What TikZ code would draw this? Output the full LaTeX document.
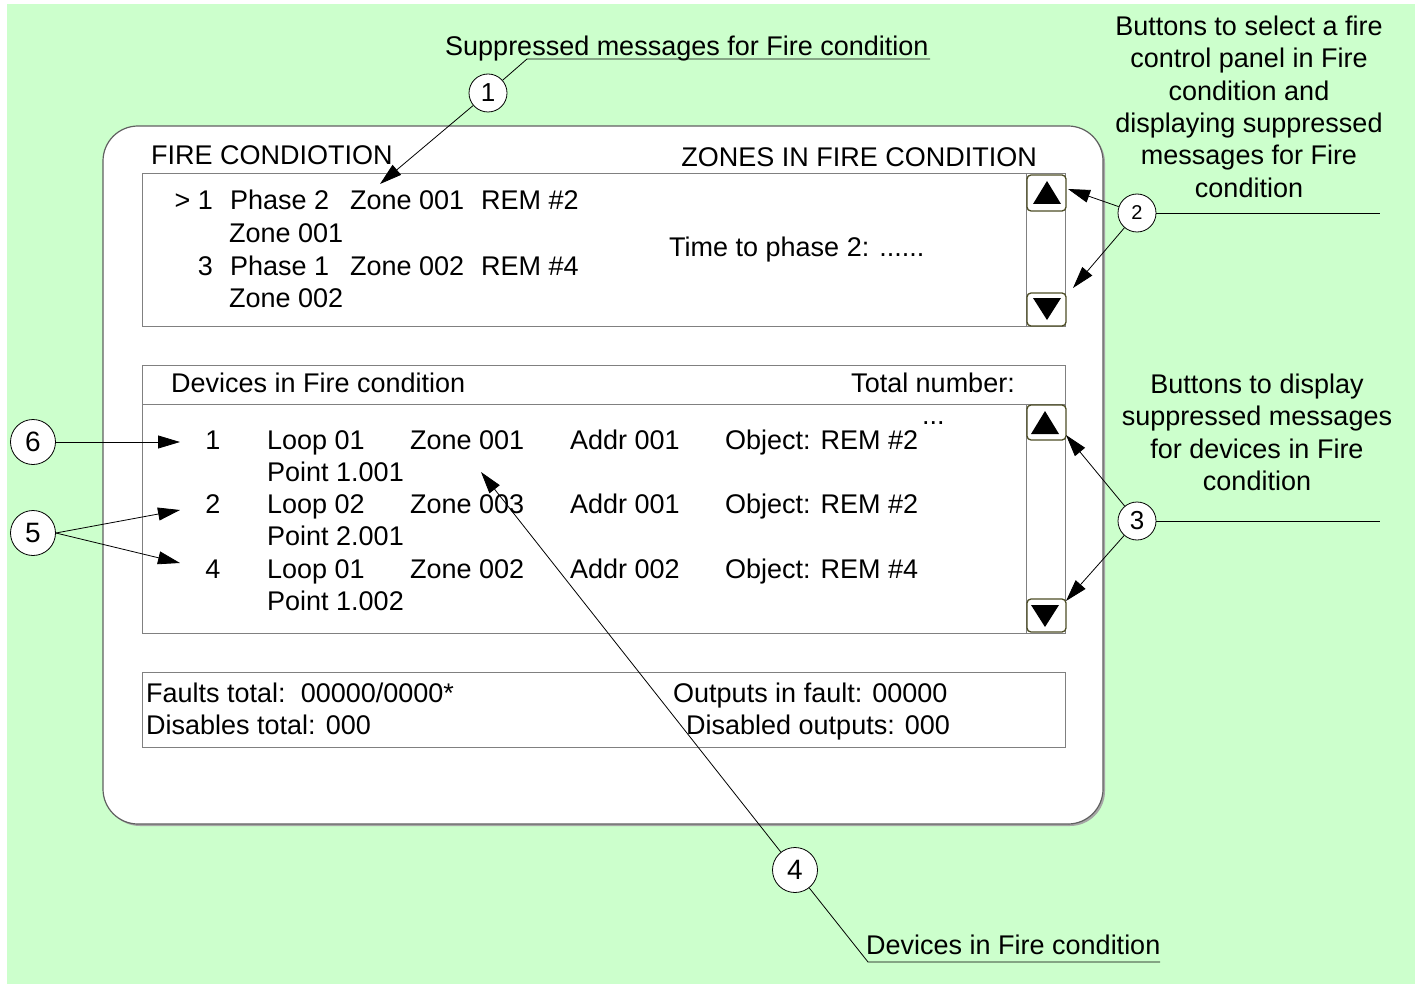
\documentclass[tikz,border=0pt]{standalone}
\usepackage{fontspec}
\setmainfont{Liberation Sans}
\usetikzlibrary{arrows.meta}
\definecolor{bggreen}{HTML}{CCFFCC}
\definecolor{btnborder}{HTML}{4D4D26}
\definecolor{panelborder}{HTML}{606060}
\definecolor{boxborder}{HTML}{808080}
\begin{document}
\begin{tikzpicture}[x=1pt,y=-1pt,
  txt/.style={font=\fontsize{27}{32}\selectfont, inner sep=0pt, anchor=base west},
  txtc/.style={font=\fontsize{27}{32}\selectfont, inner sep=0pt, anchor=base},
  txte/.style={font=\fontsize{27}{32}\selectfont, inner sep=0pt, anchor=base east},
  callout/.style={circle, draw=black, fill=white, inner sep=0pt, line width=0.8pt, minimum size=38pt, font=\fontsize{26}{26}\selectfont},
  bigcallout/.style={callout, minimum size=45pt, font=\fontsize{28}{28}\selectfont},
  leader/.style={draw=black, line width=0.8pt},
  arr/.style={leader, -{Triangle[length=22pt,width=13pt]}},
  boxline/.style={draw=boxborder, line width=1pt},
  btn/.style={draw=btnborder, fill=white, rounded corners=4pt, line width=1.3pt}
]
\useasboundingbox (0,0) rectangle (1415,984);
\fill[bggreen] (7,4) rectangle (1415,984);

% panel
\fill[gray!70, rounded corners=35pt] (105,128) rectangle (1105,826);
\draw[panelborder, fill=white, line width=1.2pt, rounded corners=35pt] (103,126) rectangle (1103,824);

% top box
\draw[boxline, fill=white] (142,174) rectangle (1065,326);
\draw[boxline] (1026,174) -- (1026,326);
\draw[btn] (1027,175) rectangle (1066,211);
\fill (1033,204) -- (1047,181) -- (1061,204) -- cycle;
\draw[btn] (1027,293) rectangle (1066,326);
\fill (1033,298) -- (1061,298) -- (1047,320) -- cycle;

\node[txt] (hdr1) at (151,165) {FIRE CONDIOTION};
\node[txte] (hdr2) at (1037,167) {ZONES IN FIRE CONDITION};

\node[txte] (z1n) at (213,210) {> 1};
\node[txt] (z1p) at (230,210) {Phase 2};
\node[txt] (z1z) at (350,210) {Zone 001};
\node[txt] (z1r) at (481,210) {REM \#2};
\node[txt] (z2z) at (229,243) {Zone 001};
\node[txte] (z3n) at (213,275) {3};
\node[txt] (z3p) at (230,275) {Phase 1};
\node[txt] (z3z) at (350,275) {Zone 002};
\node[txt] (z3r) at (481,275) {REM \#4};
\node[txt] (z4z) at (229,307) {Zone 002};
\node[txt] (tph) at (669,256) {Time to phase 2: ......};

% middle box
\draw[boxline, fill=white] (142,365) rectangle (1065,633);
\draw[boxline] (142,404) -- (1065,404);
\draw[boxline] (1026,404) -- (1026,633);
\draw[btn] (1027,405) rectangle (1066,440);
\fill (1031,434) -- (1045,411) -- (1059,434) -- cycle;
\draw[btn] (1027,599) rectangle (1066,632);
\fill (1031,605) -- (1059,605) -- (1045,627) -- cycle;

\node[txt] (dh) at (171,392) {Devices in Fire condition};
\node[txte] (tn) at (1015,392) {Total number:};
\node[txt] (dots) at (922,424) {...};

\node[txtc] (r1n) at (213,449) {1};
\node[txt] (r1l) at (267,449) {Loop 01};
\node[txt] (r1z) at (410,449) {Zone 001};
\node[txt] (r1a) at (570,449) {Addr 001};
\node[txt] (r1o) at (725,449) {Object: REM \#2};
\node[txt] (r1p) at (267,481) {Point 1.001};
\node[txtc] (r2n) at (213,513) {2};
\node[txt] (r2l) at (267,513) {Loop 02};
\node[txt] (r2z) at (410,513) {Zone 003};
\node[txt] (r2a) at (570,513) {Addr 001};
\node[txt] (r2o) at (725,513) {Object: REM \#2};
\node[txt] (r2p) at (267,545) {Point 2.001};
\node[txtc] (r4n) at (213,578) {4};
\node[txt] (r4l) at (267,578) {Loop 01};
\node[txt] (r4z) at (410,578) {Zone 002};
\node[txt] (r4a) at (570,578) {Addr 002};
\node[txt] (r4o) at (725,578) {Object: REM \#4};
\node[txt] (r4p) at (267,610) {Point 1.002};

% bottom box
\draw[boxline, fill=white] (142,672) rectangle (1065,747);
\node[txt] (ft) at (146,702) {Faults total:\ \ 00000/0000*};
\node[txt] (dt) at (146,734) {Disables total: 000};
\node[txt] (of) at (673,702) {Outputs in fault: 00000};
\node[txt] (do) at (686,734) {Disabled outputs: 000};

% annotation texts
\node[txt] (lab1) at (445,56) {Suppressed messages for Fire condition};
\node[txt] (lab4) at (866,954) {Devices in Fire condition};
\node[txtc] (b1) at (1249,36) {Buttons to select a fire};
\node[txtc] (b2) at (1249,68) {control panel in Fire};
\node[txtc] (b3) at (1249,101) {condition and};
\node[txtc] (b4) at (1249,133) {displaying suppressed};
\node[txtc] (b5) at (1249,165) {messages for Fire};
\node[txtc] (b6) at (1249,198) {condition};
\node[txtc] (d1) at (1257,393) {Buttons to display};
\node[txtc] (d2) at (1257,425) {suppressed messages};
\node[txtc] (d3) at (1257,458) {for devices in Fire};
\node[txtc] (d4) at (1257,490) {condition};

% callouts
\node[callout] (c1) at (488,93) {1};
\node[callout, font=\fontsize{20}{20}\selectfont] (c2) at (1137,213) {2};
\node[callout] (c3) at (1137,521) {3};
\node[bigcallout] (c4) at (795,870) {4};
\node[bigcallout] (c5) at (33,533) {5};
\node[bigcallout] (c6) at (33,442) {6};

\coordinate (u1s) at (527,59);
\coordinate (u1e) at (930,59);
\coordinate (t1) at (380,184);
\coordinate (r2) at (1380,213);
\coordinate (t2a) at (1068,189);
\coordinate (t2b) at (1073,288);
\coordinate (r3) at (1380,521);
\coordinate (t3a) at (1066,435);
\coordinate (t3b) at (1066,601);
\coordinate (t4) at (481,472);
\coordinate (u4s) at (868,962);
\coordinate (u4e) at (1160,962);
\coordinate (t5a) at (180,510);
\coordinate (t5b) at (180,563);
\coordinate (t6) at (180,442);

\draw[leader] (c1) -- (u1s) -- (u1e);
\draw[arr] (c1) -- (t1);
\draw[leader] (c2) -- (r2);
\draw[arr] (c2) -- (t2a);
\draw[arr] (c2) -- (t2b);
\draw[leader] (c3) -- (r3);
\draw[arr] (c3) -- (t3a);
\draw[arr] (c3) -- (t3b);
\draw[arr] (c4) -- (t4);
\draw[leader] (c4) -- (u4s) -- (u4e);
\draw[arr] (c5.east) -- (t5a);
\draw[arr] (c5.east) -- (t5b);
\draw[arr] (c6) -- (t6);
\end{tikzpicture}
\end{document}
